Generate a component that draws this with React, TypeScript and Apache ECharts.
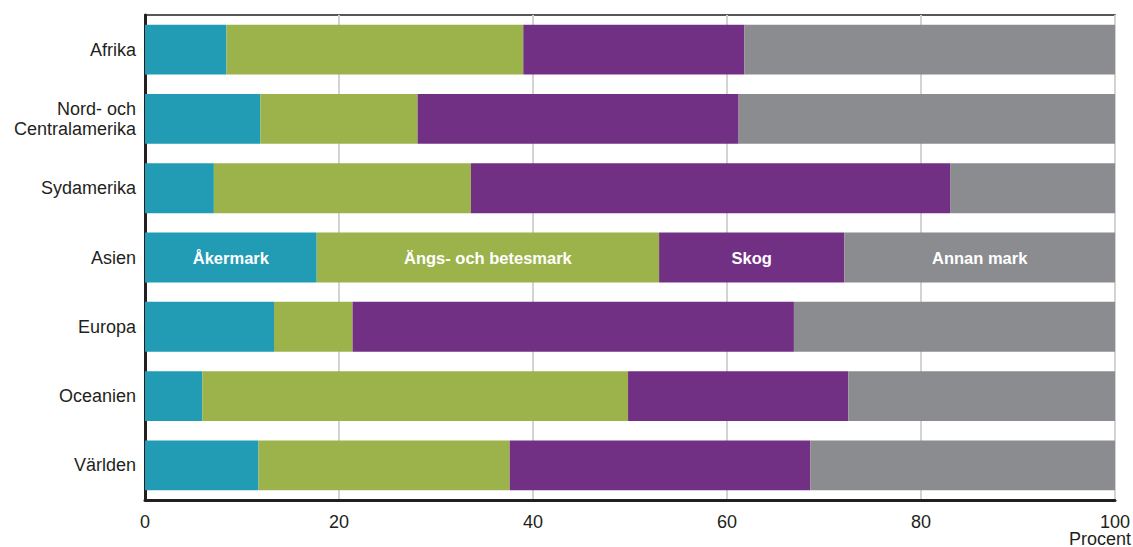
import React, { useEffect, useRef } from "react";
import * as echarts from "echarts";

const categories = ["Afrika", "Nord- och\nCentralamerika", "Sydamerika", "Asien", "Europa", "Oceanien", "Världen"];
const seriesNames = ["Åkermark", "Ängs- och betesmark", "Skog", "Annan mark"];
const akermark = [8.4, 11.9, 7.1, 17.7, 13.3, 5.9, 11.7];
const angsmark = [30.6, 16.2, 26.5, 35.3, 8.1, 43.9, 25.9];
const skog = [22.8, 33.1, 49.4, 19.1, 45.5, 22.7, 31.0];
const annan = [38.2, 38.8, 17.0, 27.9, 33.1, 27.5, 31.4];
const colors = ["#219cb4", "#9cb34b", "#723085", "#8b8c8f"];
const xTicks = [0, 20, 40, 60, 80, 100];
const labelRow = 3;
const FONT = "Liberation Sans, Arial, sans-serif";

export default function App() {
  const ref = useRef<HTMLDivElement>(null);
  useEffect(() => {
    if (!ref.current) return;
    const chart = echarts.init(ref.current, null, { renderer: "svg" });
    const allData = [akermark, angsmark, skog, annan];
    const series = allData.map((vals, si) => ({
      name: seriesNames[si],
      type: "bar",
      stack: "total",
      barWidth: "72%",
      itemStyle: { color: colors[si] },
      data: vals.map((v, i) =>
        i === labelRow
          ? {
              value: v,
              label: {
                show: true,
                position: "inside",
                formatter: seriesNames[si],
                color: "#ffffff",
                fontWeight: "bold",
                fontSize: 16.5,
                fontFamily: FONT,
              },
            }
          : v
      ),
    }));
    chart.setOption({
      animation: false,
      textStyle: { fontFamily: FONT },
      grid: {
        left: 145,
        right: 17,
        top: 15,
        bottom: 47,
        show: true,
        borderColor: "#231f20",
        borderWidth: 1.5,
        containLabel: false,
      },
      xAxis: {
        type: "value",
        min: xTicks[0],
        max: xTicks[xTicks.length - 1],
        interval: 20,
        axisLine: { show: true, onZero: false, lineStyle: { color: "#231f20", width: 3 } },
        axisTick: { show: false },
        splitLine: { show: true, lineStyle: { color: "#d3d3d3", width: 2 } },
        axisLabel: { fontSize: 18, color: "#231f20", margin: 13 },
      },
      yAxis: {
        type: "category",
        data: categories,
        inverse: true,
        axisLine: { show: true, lineStyle: { color: "#231f20", width: 3 } },
        axisTick: { show: false },
        axisLabel: { fontSize: 18, color: "#231f20", margin: 9, lineHeight: 20 },
      },
      graphic: [
        {
          type: "text",
          right: 2,
          top: 530,
          style: {
            text: "Procent",
            fontSize: 18,
            fill: "#231f20",
            fontFamily: FONT,
          },
        },
      ],
      series,
    });
    return () => chart.dispose();
  }, []);
  return <div ref={ref} style={{ width: 1133, height: 547, position: "absolute", left: 0, top: 0 }} />;
}
